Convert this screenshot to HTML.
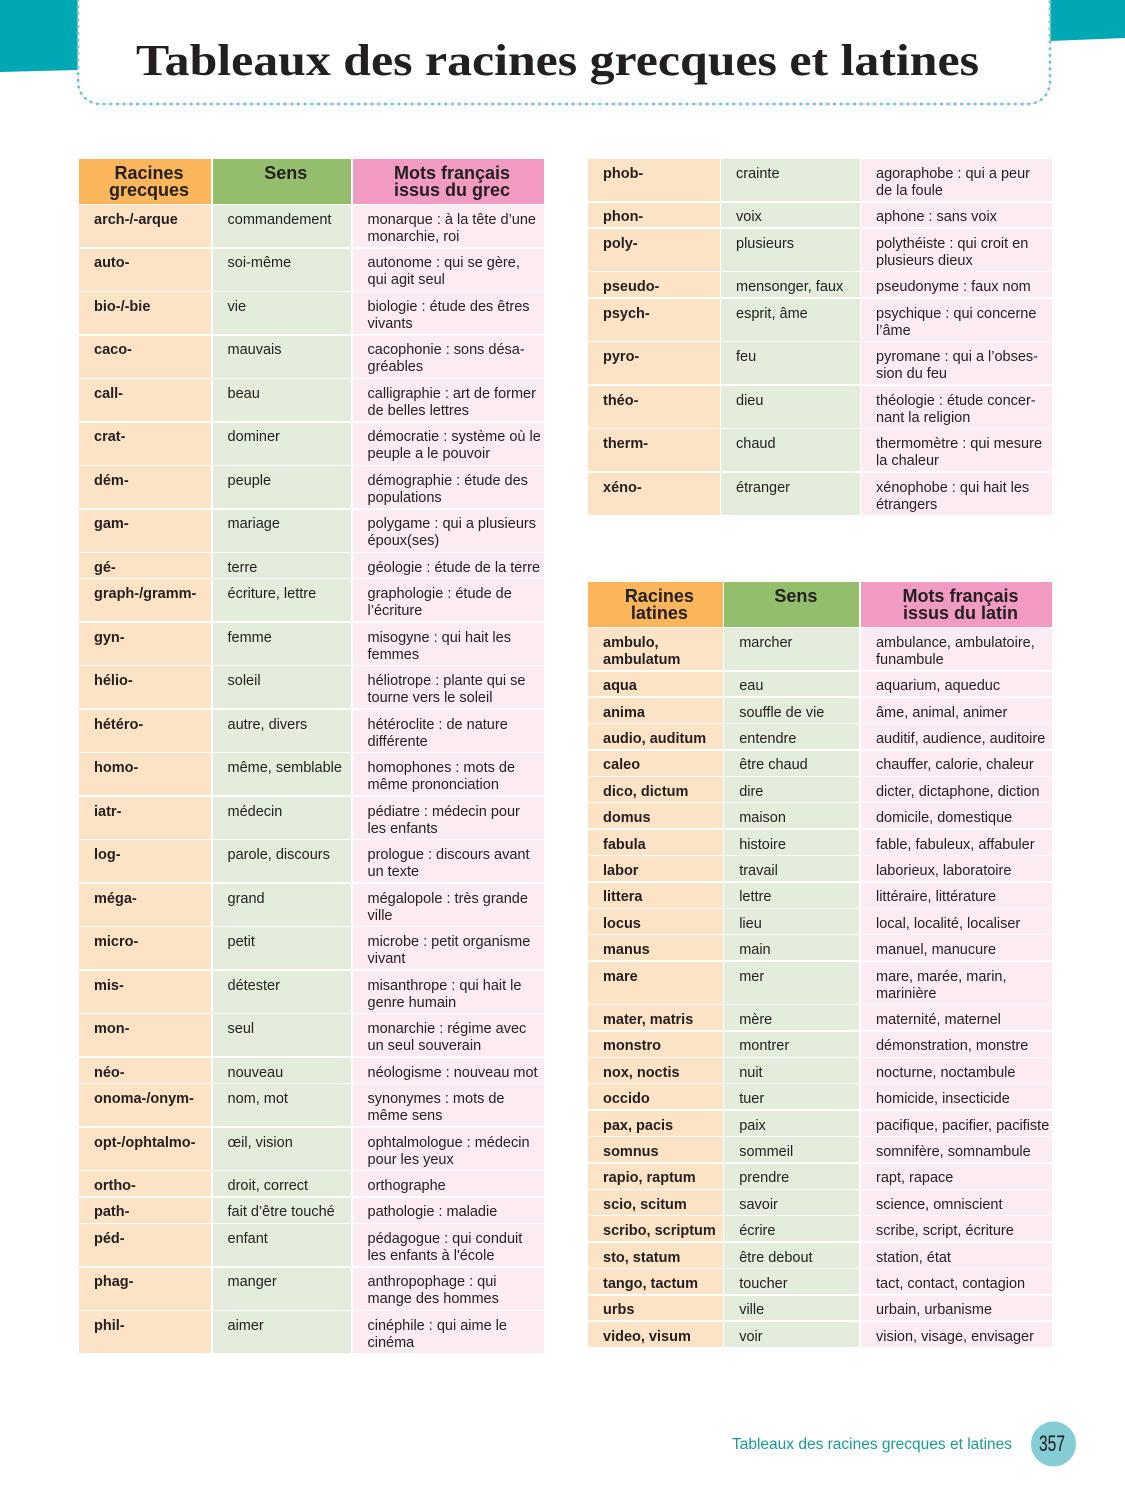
<!DOCTYPE html>
<html lang="fr">
<head>
<meta charset="utf-8">
<style>
  html, body { margin:0; padding:0; background:#fff; }
  body { width:1125px; height:1500px; position:relative; overflow:hidden; font-family:"Liberation Sans", sans-serif; }
  svg.bg { position:absolute; left:0; top:0; }
  .tbl { position:absolute; display:grid; row-gap:1.5px; column-gap:1.5px; }
  .tbl > div { box-sizing:border-box; padding:6.8px 0 0 15px; font-size:14.5px; line-height:17px; white-space:nowrap; color:#231f20; overflow:hidden; }
  .tbl > .c1 { background:#fde3c5; font-weight:bold; }
  .tbl > .c2 { background:#e4eddb; }
  .tbl > .c3 { background:#fcebf2; }
  .tbl > .h { text-align:center; font-weight:bold; font-size:18px; line-height:16.5px; padding:6px 0 0 8px; color:#231f20; }
  .tbl > .h1 { background:#fbb55b; }
  .tbl > .h2 { background:#93be6b; }
  .tbl > .h3 { background:#f19bc3; }
  #g1 { left:79px; top:159px; grid-template-columns:132px 138.5px 191px;
        grid-template-rows:44.5px repeat(8,42px) 24.9px repeat(11,42px) 24.9px repeat(2,42px) repeat(2,24.9px) repeat(3,42px); }
  #g2 { left:588px; top:159px; grid-template-columns:131.5px 138.5px 190.5px;
        grid-template-rows:42px 24.9px 42px 24.9px repeat(5,42px); }
  #l1 { left:588px; top:582px; grid-template-columns:134.7px 135.3px 191px;
        grid-template-rows:44.5px 42px repeat(11,24.9px) 42px repeat(13,24.9px); }
</style>
</head>
<body>
<svg class="bg" width="1125" height="1500" viewBox="0 0 1125 1500" xmlns="http://www.w3.org/2000/svg">
  <polygon points="0,0 78,0 78,70 0,72" fill="#00a8b6"/>
  <polygon points="1050,0 1125,0 1125,38 1050,41" fill="#00a8b6"/>
  <path d="M78,0 L78,82 A22,22 0 0 0 100,104 L1028,104 A22,22 0 0 0 1050,82 L1050,0" fill="#fff" stroke="#f3d3e4" stroke-width="1"/>
  <path d="M78,0 L78,82 A22,22 0 0 0 100,104 L1028,104 A22,22 0 0 0 1050,82 L1050,0" fill="none" stroke="#6cc7d2" stroke-width="3" stroke-dasharray="0 6.7" stroke-linecap="round"/>
  <text x="136" y="75" font-family="Liberation Serif, serif" font-weight="bold" font-size="44" fill="#231f20" textLength="843" lengthAdjust="spacingAndGlyphs">Tableaux des racines grecques et latines</text>
  <text x="732" y="1449" font-family="Liberation Sans, sans-serif" font-size="15.5" fill="#1a9b96" textLength="280" lengthAdjust="spacingAndGlyphs">Tableaux des racines grecques et latines</text>
  <circle cx="1053.5" cy="1444" r="22.5" fill="#84cdd5"/>
  <text x="1039" y="1451" font-family="Liberation Sans, sans-serif" font-size="22" fill="#1a1a1a" textLength="26" lengthAdjust="spacingAndGlyphs">357</text>
</svg>

<div class="tbl" id="g1">
  <div class="h h1">Racines<br>grecques</div><div class="h h2">Sens</div><div class="h h3">Mots français<br>issus du grec</div>
  <div class="c1">arch-/-arque</div><div class="c2">commandement</div><div class="c3">monarque : à la tête d’une<br>monarchie, roi</div>
  <div class="c1">auto-</div><div class="c2">soi-même</div><div class="c3">autonome : qui se gère,<br>qui agit seul</div>
  <div class="c1">bio-/-bie</div><div class="c2">vie</div><div class="c3">biologie : étude des êtres<br>vivants</div>
  <div class="c1">caco-</div><div class="c2">mauvais</div><div class="c3">cacophonie : sons désa-<br>gréables</div>
  <div class="c1">call-</div><div class="c2">beau</div><div class="c3">calligraphie : art de former<br>de belles lettres</div>
  <div class="c1">crat-</div><div class="c2">dominer</div><div class="c3">démocratie : système où le<br>peuple a le pouvoir</div>
  <div class="c1">dém-</div><div class="c2">peuple</div><div class="c3">démographie : étude des<br>populations</div>
  <div class="c1">gam-</div><div class="c2">mariage</div><div class="c3">polygame : qui a plusieurs<br>époux(ses)</div>
  <div class="c1">gé-</div><div class="c2">terre</div><div class="c3">géologie : étude de la terre</div>
  <div class="c1">graph-/gramm-</div><div class="c2">écriture, lettre</div><div class="c3">graphologie : étude de<br>l’écriture</div>
  <div class="c1">gyn-</div><div class="c2">femme</div><div class="c3">misogyne : qui hait les<br>femmes</div>
  <div class="c1">hélio-</div><div class="c2">soleil</div><div class="c3">héliotrope : plante qui se<br>tourne vers le soleil</div>
  <div class="c1">hétéro-</div><div class="c2">autre, divers</div><div class="c3">hétéroclite : de nature<br>différente</div>
  <div class="c1">homo-</div><div class="c2">même, semblable</div><div class="c3">homophones : mots de<br>même prononciation</div>
  <div class="c1">iatr-</div><div class="c2">médecin</div><div class="c3">pédiatre : médecin pour<br>les enfants</div>
  <div class="c1">log-</div><div class="c2">parole, discours</div><div class="c3">prologue : discours avant<br>un texte</div>
  <div class="c1">méga-</div><div class="c2">grand</div><div class="c3">mégalopole : très grande<br>ville</div>
  <div class="c1">micro-</div><div class="c2">petit</div><div class="c3">microbe : petit organisme<br>vivant</div>
  <div class="c1">mis-</div><div class="c2">détester</div><div class="c3">misanthrope : qui hait le<br>genre humain</div>
  <div class="c1">mon-</div><div class="c2">seul</div><div class="c3">monarchie : régime avec<br>un seul souverain</div>
  <div class="c1">néo-</div><div class="c2">nouveau</div><div class="c3">néologisme : nouveau mot</div>
  <div class="c1">onoma-/onym-</div><div class="c2">nom, mot</div><div class="c3">synonymes : mots de<br>même sens</div>
  <div class="c1">opt-/ophtalmo-</div><div class="c2">œil, vision</div><div class="c3">ophtalmologue : médecin<br>pour les yeux</div>
  <div class="c1">ortho-</div><div class="c2">droit, correct</div><div class="c3">orthographe</div>
  <div class="c1">path-</div><div class="c2">fait d’être touché</div><div class="c3">pathologie : maladie</div>
  <div class="c1">péd-</div><div class="c2">enfant</div><div class="c3">pédagogue : qui conduit<br>les enfants à l'école</div>
  <div class="c1">phag-</div><div class="c2">manger</div><div class="c3">anthropophage : qui<br>mange des hommes</div>
  <div class="c1">phil-</div><div class="c2">aimer</div><div class="c3">cinéphile : qui aime le<br>cinéma</div>
</div>

<div class="tbl" id="g2">
  <div class="c1">phob-</div><div class="c2">crainte</div><div class="c3">agoraphobe : qui a peur<br>de la foule</div>
  <div class="c1">phon-</div><div class="c2">voix</div><div class="c3">aphone : sans voix</div>
  <div class="c1">poly-</div><div class="c2">plusieurs</div><div class="c3">polythéiste : qui croit en<br>plusieurs dieux</div>
  <div class="c1">pseudo-</div><div class="c2">mensonger, faux</div><div class="c3">pseudonyme : faux nom</div>
  <div class="c1">psych-</div><div class="c2">esprit, âme</div><div class="c3">psychique : qui concerne<br>l’âme</div>
  <div class="c1">pyro-</div><div class="c2">feu</div><div class="c3">pyromane : qui a l’obses-<br>sion du feu</div>
  <div class="c1">théo-</div><div class="c2">dieu</div><div class="c3">théologie : étude concer-<br>nant la religion</div>
  <div class="c1">therm-</div><div class="c2">chaud</div><div class="c3">thermomètre : qui mesure<br>la chaleur</div>
  <div class="c1">xéno-</div><div class="c2">étranger</div><div class="c3">xénophobe : qui hait les<br>étrangers</div>
</div>

<div class="tbl" id="l1">
  <div class="h h1">Racines<br>latines</div><div class="h h2">Sens</div><div class="h h3">Mots français<br>issus du latin</div>
  <div class="c1">ambulo,<br>ambulatum</div><div class="c2">marcher</div><div class="c3">ambulance, ambulatoire,<br>funambule</div>
  <div class="c1">aqua</div><div class="c2">eau</div><div class="c3">aquarium, aqueduc</div>
  <div class="c1">anima</div><div class="c2">souffle de vie</div><div class="c3">âme, animal, animer</div>
  <div class="c1">audio, auditum</div><div class="c2">entendre</div><div class="c3">auditif, audience, auditoire</div>
  <div class="c1">caleo</div><div class="c2">être chaud</div><div class="c3">chauffer, calorie, chaleur</div>
  <div class="c1">dico, dictum</div><div class="c2">dire</div><div class="c3">dicter, dictaphone, diction</div>
  <div class="c1">domus</div><div class="c2">maison</div><div class="c3">domicile, domestique</div>
  <div class="c1">fabula</div><div class="c2">histoire</div><div class="c3">fable, fabuleux, affabuler</div>
  <div class="c1">labor</div><div class="c2">travail</div><div class="c3">laborieux, laboratoire</div>
  <div class="c1">littera</div><div class="c2">lettre</div><div class="c3">littéraire, littérature</div>
  <div class="c1">locus</div><div class="c2">lieu</div><div class="c3">local, localité, localiser</div>
  <div class="c1">manus</div><div class="c2">main</div><div class="c3">manuel, manucure</div>
  <div class="c1">mare</div><div class="c2">mer</div><div class="c3">mare, marée, marin,<br>marinière</div>
  <div class="c1">mater, matris</div><div class="c2">mère</div><div class="c3">maternité, maternel</div>
  <div class="c1">monstro</div><div class="c2">montrer</div><div class="c3">démonstration, monstre</div>
  <div class="c1">nox, noctis</div><div class="c2">nuit</div><div class="c3">nocturne, noctambule</div>
  <div class="c1">occido</div><div class="c2">tuer</div><div class="c3">homicide, insecticide</div>
  <div class="c1">pax, pacis</div><div class="c2">paix</div><div class="c3">pacifique, pacifier, pacifiste</div>
  <div class="c1">somnus</div><div class="c2">sommeil</div><div class="c3">somnifère, somnambule</div>
  <div class="c1">rapio, raptum</div><div class="c2">prendre</div><div class="c3">rapt, rapace</div>
  <div class="c1">scio, scitum</div><div class="c2">savoir</div><div class="c3">science, omniscient</div>
  <div class="c1">scribo, scriptum</div><div class="c2">écrire</div><div class="c3">scribe, script, écriture</div>
  <div class="c1">sto, statum</div><div class="c2">être debout</div><div class="c3">station, état</div>
  <div class="c1">tango, tactum</div><div class="c2">toucher</div><div class="c3">tact, contact, contagion</div>
  <div class="c1">urbs</div><div class="c2">ville</div><div class="c3">urbain, urbanisme</div>
  <div class="c1">video, visum</div><div class="c2">voir</div><div class="c3">vision, visage, envisager</div>
</div>
</body>
</html>
